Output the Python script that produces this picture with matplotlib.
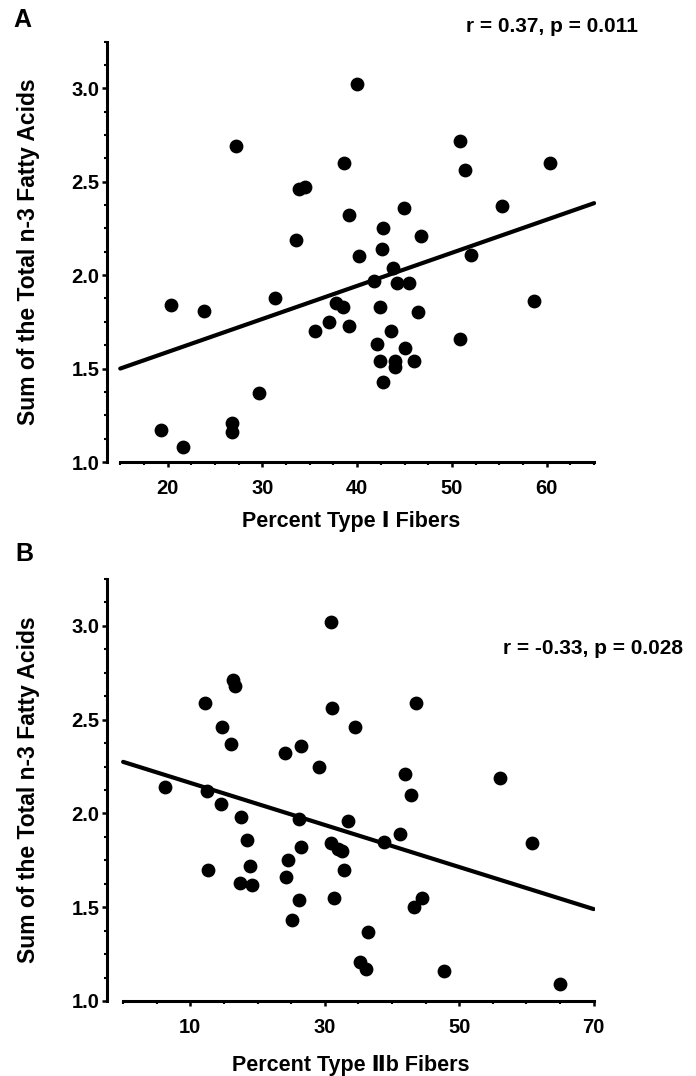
import matplotlib
matplotlib.use("Agg")
import matplotlib.pyplot as plt
from matplotlib.ticker import FixedLocator, MultipleLocator

plt.rcParams['font.family'] = ['Liberation Sans', 'DejaVu Sans']
plt.rcParams['font.weight'] = 'bold'

# Panel A: percent type I fibers vs sum of n-3 fatty acids
type1_pct = [19.3, 21.6, 20.4, 23.8, 27.2, 26.8, 26.8, 29.6, 31.3, 33.5,
             33.9, 34.5, 35.6, 37.0, 37.8, 38.5, 38.6, 39.1, 39.1, 40.0,
             40.2, 41.8, 42.1, 42.4, 42.4, 42.6, 42.7, 42.7, 43.6, 43.8,
             44.0, 44.0, 44.2, 44.9, 45.0, 45.5, 46.0, 46.4, 46.7, 50.8,
             50.9, 51.4, 52.0, 55.3, 58.7, 60.3]
n3_a = [1.17, 1.08, 1.84, 1.81, 2.69, 1.21, 1.16, 1.37, 1.88, 2.19,
        2.46, 2.47, 1.70, 1.75, 1.85, 1.83, 2.60, 2.32, 1.73, 3.02,
        2.10, 1.97, 1.63, 1.83, 1.54, 2.14, 2.25, 1.43, 1.70, 2.04,
        1.54, 1.51, 1.96, 2.36, 1.61, 1.96, 1.54, 1.80, 2.21, 1.66,
        2.72, 2.56, 2.11, 2.37, 1.86, 2.60]
fit_a_x = [15, 65]
fit_a_y = [1.50, 2.385]

# Panel B: percent type IIb fibers vs sum of n-3 fatty acids
type2b_pct = [6.3, 12.2, 12.5, 12.6, 14.5, 14.7, 16.1, 16.4, 16.7, 17.6,
              17.4, 18.4, 18.8, 19.1, 24.1, 24.3, 24.5, 25.1, 26.1, 26.4,
              26.4, 26.1, 29.1, 30.9, 31.0, 30.9, 31.4, 31.9, 32.5, 32.8,
              33.4, 34.5, 35.3, 36.1, 36.5, 38.8, 41.2, 42.0, 42.9, 43.3,
              43.5, 44.5, 47.7, 56.0, 60.9, 65.0]
n3_b = [2.14, 2.59, 2.12, 1.70, 2.05, 2.46, 2.37, 2.71, 2.68, 1.98,
        1.63, 1.86, 1.72, 1.62, 2.32, 1.66, 1.75, 1.43, 1.97, 2.36,
        1.82, 1.54, 2.25, 3.02, 2.56, 1.84, 1.55, 1.81, 1.80, 1.70,
        1.96, 2.46, 1.21, 1.17, 1.37, 1.85, 1.89, 2.21, 2.10, 1.50,
        2.59, 1.55, 1.16, 2.19, 1.84, 1.09]
fit_b_x = [0, 70]
fit_b_y = [2.275, 1.49]

y_ticks = [1.0, 1.5, 2.0, 2.5, 3.0]
y_labels = ['1.0', '1.5', '2.0', '2.5', '3.0']
ylab = 'Sum of the Total n-3 Fatty Acids'

W, H = 696, 1076
fig = plt.figure(figsize=(W / 100, H / 100), dpi=100)


def px_axes(left, top, right, bottom):
    return fig.add_axes([left / W, 1 - bottom / H, (right - left) / W, (bottom - top) / H])


def style(ax, xlim, xbounds, xmajor, xminor):
    ax.set_xlim(*xlim)
    ax.set_ylim(1.0, 3.25)
    for s in ['top', 'right']:
        ax.spines[s].set_visible(False)
    ax.spines['left'].set_linewidth(2.2)
    ax.spines['bottom'].set_linewidth(2.2)
    ax.spines['bottom'].set_bounds(*xbounds)
    ax.xaxis.set_major_locator(FixedLocator(xmajor))
    ax.xaxis.set_minor_locator(MultipleLocator(xminor))
    ax.yaxis.set_major_locator(FixedLocator(y_ticks))
    ax.set_yticklabels(y_labels)
    ax.yaxis.set_minor_locator(MultipleLocator(0.125))
    ax.tick_params(which='major', direction='out', length=3.5, width=1.8, labelsize=14.5, pad=2)
    ax.tick_params(which='minor', direction='out', length=2.5, width=1.5)
    ax.tick_params(axis='x', which='major', pad=9)
    for lab in ax.get_xticklabels() + ax.get_yticklabels():
        lab.set_fontweight('bold')
    ax.set_ylabel(ylab, fontsize=16.5, fontweight='bold')
    ax.yaxis.set_label_coords(-0.137, 0.5)


# top panel
ax1 = px_axes(107, 41.5, 596, 462)
ax1.scatter(type1_pct, n3_a, s=80, color='black', zorder=3, clip_on=False)
ax1.plot(fit_a_x, fit_a_y, color='black', linewidth=3, solid_capstyle='round')
style(ax1, (13.6, 65.2), (15, 65), [20, 30, 40, 50, 60], 2.5)
ax1.set_xlabel('Percent Type Ⅰ Fibers', fontsize=15.5, fontweight='bold', labelpad=9)

# bottom panel
ax2 = px_axes(107, 579, 595, 1001)
ax2.scatter(type2b_pct, n3_b, s=80, color='black', zorder=3, clip_on=False)
ax2.plot(fit_b_x, fit_b_y, color='black', linewidth=3, solid_capstyle='round')
style(ax2, (-2.4, 70.2), (0, 70), [10, 30, 50, 70], 5)

fig.text(351 / W, 1 - 1065 / H, 'Percent Type Ⅱb Fibers', fontsize=15.5, fontweight='bold',
         va='center', ha='center')
fig.text(13 / W, 1 - 20 / H, 'A', fontsize=18, fontweight='bold', va='center', ha='left')
fig.text(15 / W, 1 - 554 / H, 'B', fontsize=18, fontweight='bold', va='center', ha='left')
fig.text(638 / W, 1 - 27 / H, 'r = 0.37, p = 0.011', fontsize=15, fontweight='bold', va='center', ha='right')
fig.text(683 / W, 1 - 648 / H, 'r = -0.33, p = 0.028', fontsize=15, fontweight='bold', va='center', ha='right')

fig.savefig('out.png', dpi=100)
